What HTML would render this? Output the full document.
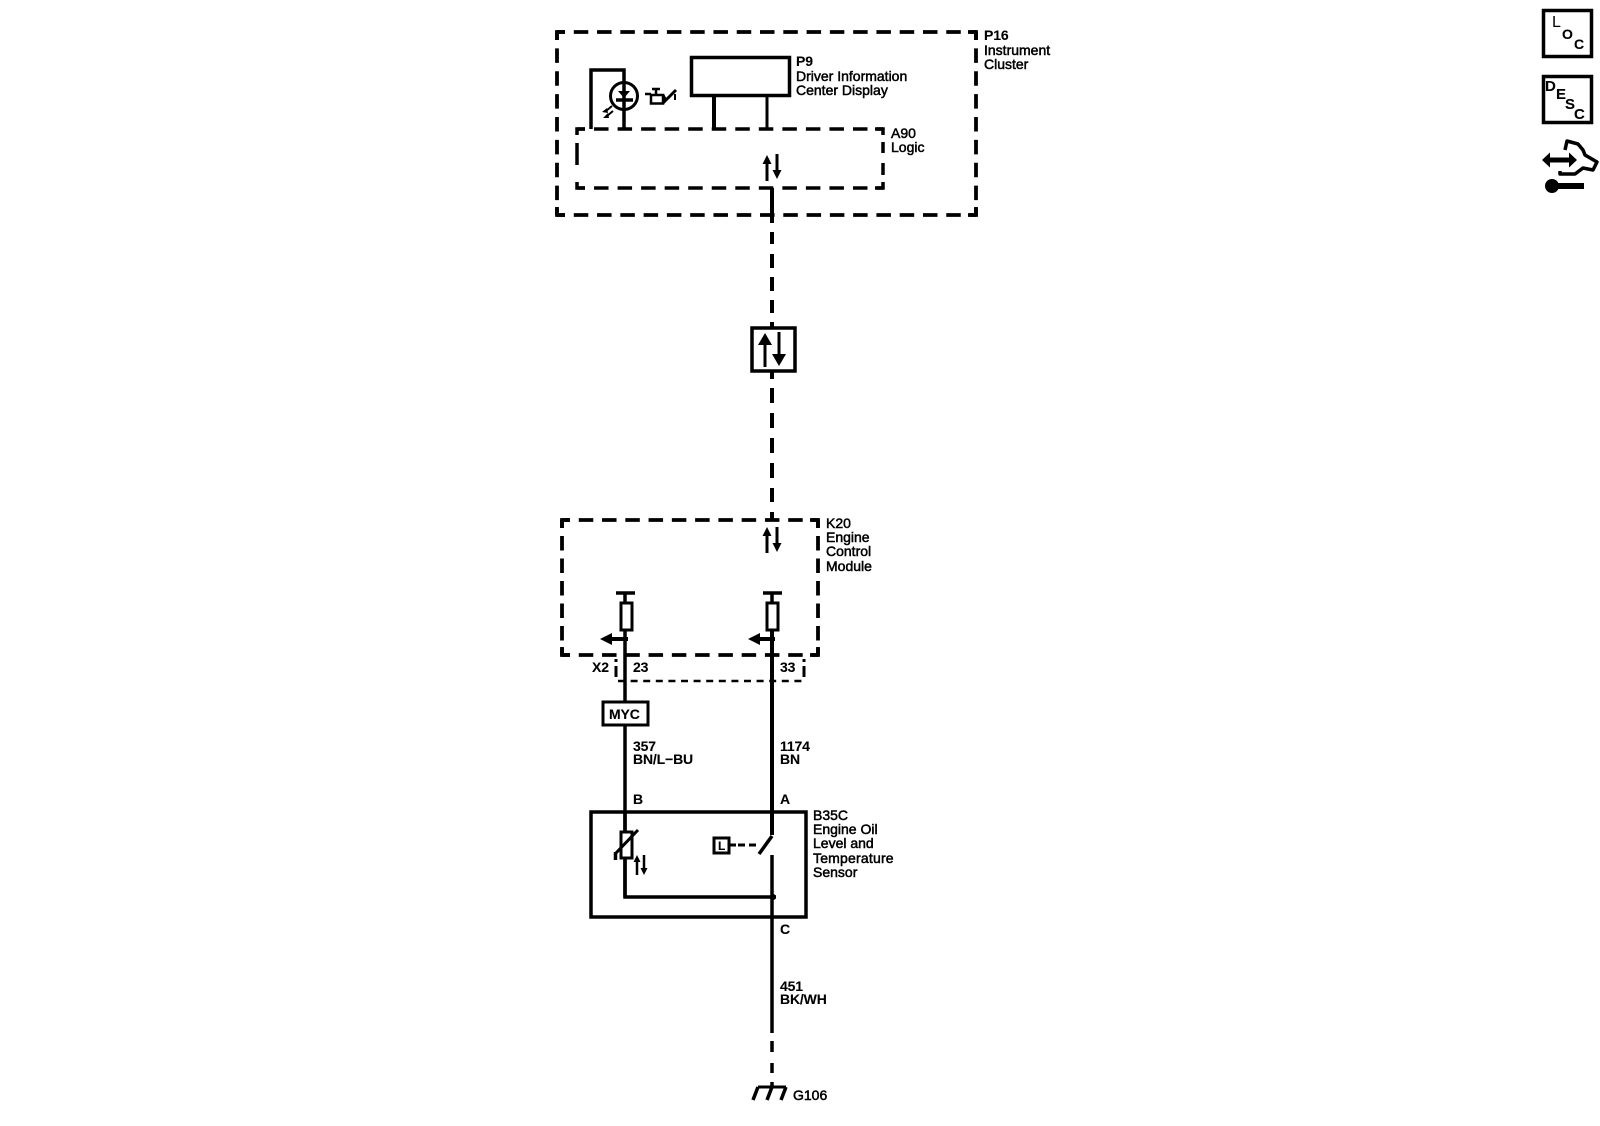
<!DOCTYPE html>
<html><head><meta charset="utf-8"><style>
html,body{margin:0;padding:0;background:#fff}
svg{display:block}
text{font-family:"Liberation Sans",sans-serif;font-size:14px;fill:#000;stroke:#000;stroke-width:.5px}
.b{font-weight:bold;stroke-width:.1px;letter-spacing:-.15px}
</style></head><body>
<svg width="1600" height="1126" viewBox="0 0 1600 1126" xmlns="http://www.w3.org/2000/svg" fill="none" stroke="#000">
<defs>
<g id="up"><path d="M0 0V-20" stroke-width="3"/><path d="M-4.500-17L0-26L4.500-17Z" fill="#000" stroke="none"/></g>
<g id="dn"><path d="M0 0V20" stroke-width="3"/><path d="M-4.500 16L0 25L4.500 16Z" fill="#000" stroke="none"/></g>
</defs>

<!-- P16 -->
<g stroke-width="3.800">
<path d="M557 32H976M557 215H976" stroke-dasharray="14.500 8.780" stroke-dashoffset="6.500"/>
<path d="M557 32V215M976 32V215" stroke-dasharray="14.500 8.375" stroke-dashoffset="6.500"/>
<path d="M557 40V32H565M968 32H976V40M976 207V215H968M565 215H557V207"/>
</g>
<!-- A90 -->
<g stroke-width="3.500">
<path d="M577 129H883M577 188H883" stroke-dasharray="14.500 9.040" stroke-dashoffset="6.500"/>
<path d="M577 135V129H585M875 129H883V135M883 182V188H875M585 188H577V182"/>
<path d="M577 143V165M883 142V153M883 163V175"/>
</g>
<!-- P9 -->
<rect x="691.500" y="57.500" width="98" height="38" stroke-width="3.500"/>
<path d="M714 95V129" stroke-width="4"/>
<path d="M767 95V129" stroke-width="3"/>
<!-- LED -->
<path d="M591 129V70H624V129" stroke-width="3.500"/>
<circle cx="624" cy="96" r="13.500" stroke-width="3"/>
<path d="M618 91H630L624 98Z" fill="#000" stroke="none"/>
<path d="M616 100H633" stroke-width="3.500"/>
<path d="M612 106L606 111M613 111L607 116" stroke-width="2"/>
<path d="M602 112L607 108L608 113Z M603 118L608 113L609 118Z" fill="#000" stroke="none"/>
<!-- oil can -->
<rect x="651" y="95" width="12" height="8.500" stroke-width="2.500"/>
<path d="M652 89H660M656 89V95M645 94H651" stroke-width="2.500"/>
<path d="M663 95L666 101M663 103L676 90" stroke-width="3"/>
<path d="M675 94V100" stroke-width="2"/>
<!-- A90 arrows -->
<use href="#up" x="767" y="181"/>
<use href="#dn" x="777" y="154"/>
<!-- main wire -->
<path d="M772 188V223" stroke-width="4"/>
<path d="M772 232V244M772 254V268M772 277V291M772 300V313M772 322V327M772 372V379M772 388V403M772 413V428M772 438V453M772 463V478M772 488V502M772 512V520" stroke-width="4"/>
<!-- arrow box -->
<rect x="752" y="328" width="43" height="43" stroke-width="3.500" fill="#fff"/>
<path d="M765 367V340" stroke-width="3"/><path d="M758 345L765 333L772 345Z" fill="#000" stroke="none"/>
<path d="M779 332V358" stroke-width="3"/><path d="M772 354L779 366L786 354Z" fill="#000" stroke="none"/>

<!-- K20 -->
<g stroke-width="3.800">
<path d="M562 520H818M562 655H818" stroke-dasharray="14.500 8.770" stroke-dashoffset="6.500"/>
<path d="M562 520V655M818 520V655" stroke-dasharray="14.500 8" stroke-dashoffset="6.500"/>
<path d="M562 528V520H570M810 520H818V528M818 647V655H810M570 655H562V647"/>
</g>
<use href="#up" x="767" y="553"/>
<use href="#dn" x="777" y="527"/>
<!-- fuses -->
<path d="M616 593H635M763 593H782" stroke-width="3.500"/>
<path d="M625 593V603M772 593V603" stroke-width="3.500"/>
<rect x="621" y="603" width="11" height="27" stroke-width="3" fill="#fff"/>
<rect x="767" y="603" width="11" height="27" stroke-width="3" fill="#fff"/>
<path d="M625 630V701M625 726V812M625 812V897" stroke-width="3.500"/>
<path d="M772 630V835" stroke-width="4"/>
<path d="M610 639H628M758 639H775" stroke-width="4"/>
<path d="M612 633L600 639L612 645Z M760 633L748 639L760 645Z" fill="#000" stroke="none"/>
<!-- X2 connector -->
<path d="M616 659V662M616 666V677" stroke-width="3"/>
<path d="M804 659V662M804 666V677" stroke-width="3"/>
<path d="M618 681H803" stroke-width="2.500" stroke-dasharray="7 5.600"/>
<!-- MYC -->
<rect x="603" y="702" width="45" height="23" stroke-width="3" fill="#fff"/>
<!-- sensor -->
<rect x="591" y="812" width="215" height="105" stroke-width="3.500"/>
<path d="M625 812V897H776" stroke-width="3.500"/>
<circle cx="773" cy="897" r="3" fill="#000" stroke="none"/>
<path d="M772 855V1033" stroke-width="3.500"/>
<path d="M772 1041V1052M772 1063V1073M772 1082V1087" stroke-width="3.500"/>
<path d="M772 836L759 854" stroke-width="3.500"/>
<rect x="621" y="832" width="11" height="26" stroke-width="3" fill="#fff"/>
<path d="M616 853L638 830" stroke-width="3"/>
<path d="M615.500 852V860" stroke-width="3.500"/>
<path d="M637 875V861M644 855V869" stroke-width="2.500"/>
<path d="M633.500 862L637 855L640.500 862Z M640.500 868L644 875L647.500 868Z" fill="#000" stroke="none"/>
<rect x="714" y="838" width="15" height="15" stroke-width="3"/>
<path d="M730 845H736" stroke-width="3"/>
<path d="M738 845H757" stroke-width="3" stroke-dasharray="7 4"/>
<!-- ground -->
<path d="M758 1087H786" stroke-width="3"/>
<path d="M758 1087L753 1100M772 1087L767 1100M786 1087L781 1100" stroke-width="3.500"/>

<!-- icons -->
<rect x="1543.500" y="10.500" width="48" height="46" stroke-width="3.500"/>
<rect x="1543.500" y="76.500" width="48" height="46" stroke-width="3.500"/>
<path d="M1565 150L1567 141L1578 144L1583 150L1585 155L1597 162L1593 170L1583 168L1575 174L1560 174V171" stroke-width="3.500" stroke-linejoin="round"/>
<path d="M1548 160H1571" stroke-width="5"/>
<path d="M1550 152.500L1542 160L1550 167.500Z M1569 152.500L1577 160L1569 167.500Z" fill="#000" stroke="none"/>
<circle cx="1552" cy="186" r="7" fill="#000" stroke="none"/>
<path d="M1552 183H1584V189H1552Z" fill="#000" stroke="none"/>

<!-- labels -->
<g stroke="#000">
<text x="984" y="40" class="b">P16</text>
<text x="984" y="55">Instrument</text>
<text x="984" y="69">Cluster</text>
<text x="796" y="66" class="b">P9</text>
<text x="796" y="81">Driver Information</text>
<text x="796" y="95">Center Display</text>
<text x="891" y="138">A90</text>
<text x="891" y="152">Logic</text>
<text x="826" y="528">K20</text>
<text x="826" y="542">Engine</text>
<text x="826" y="556">Control</text>
<text x="826" y="571">Module</text>
<text x="592" y="672" class="b">X2</text>
<text x="633" y="672" class="b">23</text>
<text x="780" y="672" class="b">33</text>
<text x="609" y="719" class="b">MYC</text>
<text x="633" y="751" class="b">357</text>
<text x="633" y="764" class="b">BN/L−BU</text>
<text x="780" y="751" class="b">1174</text>
<text x="780" y="764" class="b">BN</text>
<text x="633" y="804" class="b">B</text>
<text x="780" y="804" class="b">A</text>
<text x="780" y="934" class="b">C</text>
<text x="813" y="820">B35C</text>
<text x="813" y="834">Engine Oil</text>
<text x="813" y="848">Level and</text>
<text x="813" y="863" style="letter-spacing:.2px">Temperature</text>
<text x="813" y="877">Sensor</text>
<text x="718" y="850" class="b" style="font-size:12px">L</text>
<text x="780" y="991" class="b">451</text>
<text x="780" y="1004" class="b">BK/WH</text>
<text x="793" y="1100">G106</text>
<text x="1552" y="27" style="font-size:16px;stroke-width:0">L</text>
<text x="1562" y="39" class="b" style="font-size:14px">O</text>
<text x="1574" y="49" class="b" style="font-size:14px">C</text>
<text x="1545" y="91" class="b" style="font-size:15px">D</text>
<text x="1556" y="99" class="b" style="font-size:15px">E</text>
<text x="1565" y="109" class="b" style="font-size:15px">S</text>
<text x="1574" y="119" class="b" style="font-size:15px">C</text>
</g>
</svg>
</body></html>
